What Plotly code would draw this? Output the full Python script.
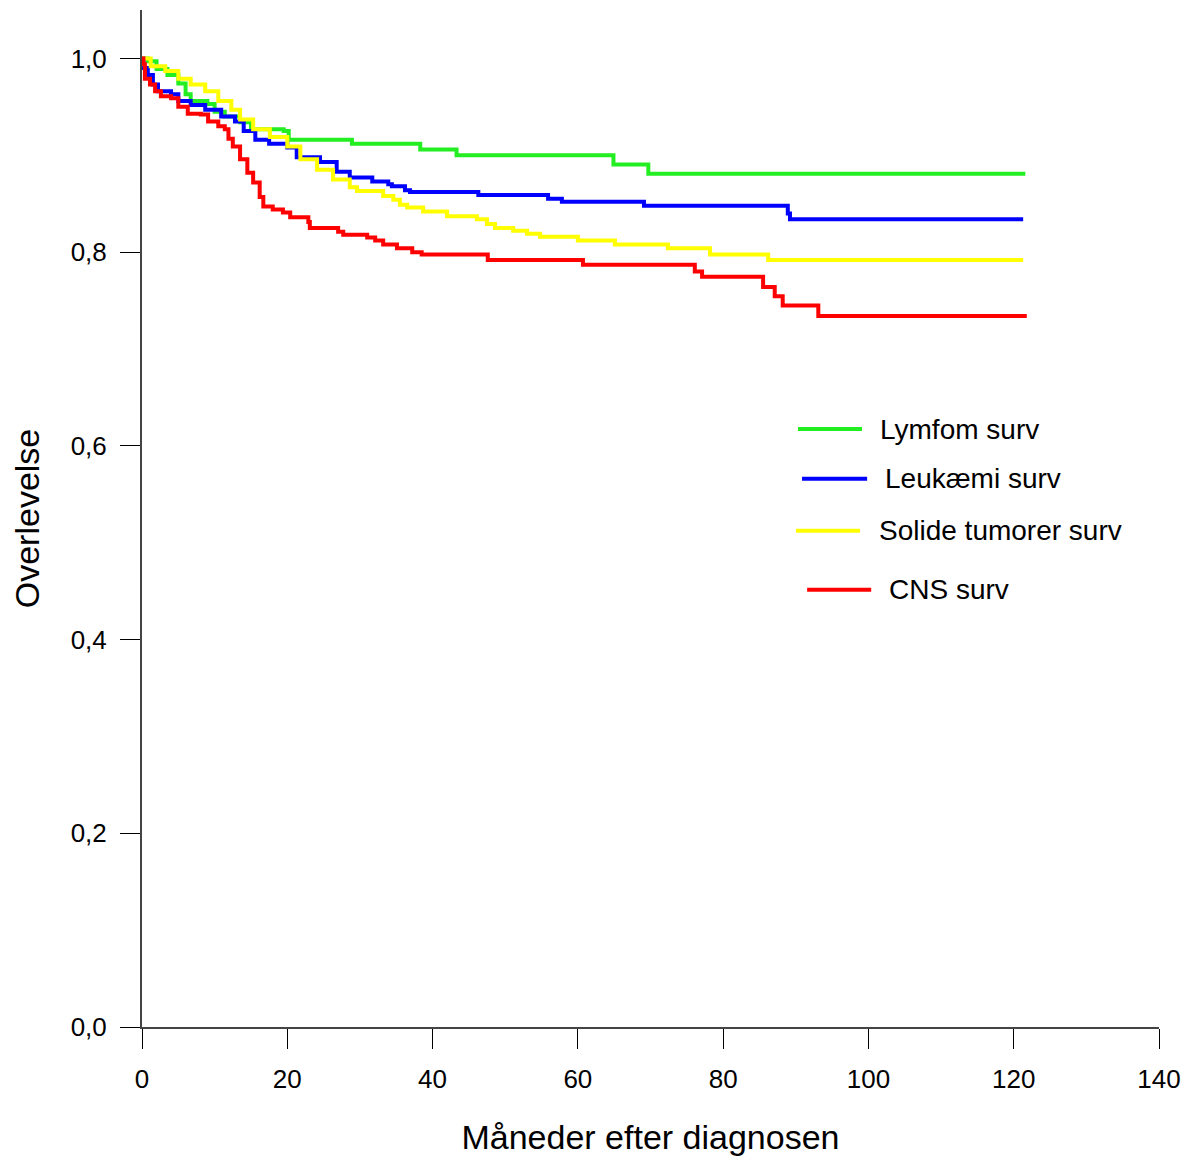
import plotly.graph_objects as go

# ---- data ----
lymfom_t = [0, 0.8, 2.0, 3.5, 5.0, 6.0, 6.7, 9.0, 10.0, 11.4, 13.5, 15.0, 19.5, 20.2, 28.9, 38.3, 43.3, 64.9, 69.7, 121.6]
lymfom_s = [1.0, 0.997, 0.989, 0.983, 0.974, 0.963, 0.956, 0.953, 0.945, 0.940, 0.934, 0.927, 0.925, 0.916, 0.912, 0.906, 0.900, 0.8905, 0.881, 0.881]

leuk_t = [0, 0.2, 0.8, 1.5, 2.2, 4.0, 5.0, 6.7, 8.7, 10.9, 12.8, 14.0, 15.6, 17.5, 20.0, 21.3, 24.5, 26.8, 28.6,
          31.7, 33.9, 34.4, 36.2, 36.9, 46.3, 55.9, 57.8, 69.1, 88.9, 89.2, 121.3]
leuk_s = [1.0, 0.99, 0.983, 0.973, 0.966, 0.963, 0.956, 0.952, 0.947, 0.940, 0.935, 0.925, 0.916, 0.912, 0.908, 0.898,
          0.893, 0.883, 0.877, 0.873, 0.870, 0.868, 0.864, 0.862, 0.859, 0.855, 0.852, 0.848, 0.840, 0.834, 0.834]

solid_t = [0, 1.2, 3.2, 5.0, 6.7, 8.7, 10.5, 12.3, 13.5, 15.3, 17.6, 20.0, 21.8, 24.1, 26.3, 28.6, 29.6, 33.2, 34.6,
           35.5, 36.5, 38.7, 42.0, 46.1, 47.5, 48.6, 51.1, 53.0, 54.8, 60.0, 65.1, 72.4, 78.2, 86.2, 121.3]
solid_s = [1.0, 0.992, 0.987, 0.979, 0.973, 0.966, 0.956, 0.947, 0.937, 0.927, 0.919, 0.909, 0.896, 0.885, 0.875,
           0.867, 0.863, 0.858, 0.854, 0.849, 0.846, 0.842, 0.837, 0.834, 0.829, 0.825, 0.822, 0.819, 0.816, 0.812,
           0.808, 0.804, 0.7975, 0.792, 0.792]

cns_t = [0, 0.2, 0.4, 1.1, 1.8, 2.6, 4.0, 5.0, 6.3, 8.1, 9.1, 10.5, 11.4, 11.9, 12.5, 13.5, 14.5, 15.3, 16.2, 16.7,
         18.0, 19.4, 20.4, 22.9, 23.1, 27.0, 27.7, 31.0, 32.1, 33.2, 35.1, 37.2, 38.5, 47.6, 60.7, 76.1, 77.1, 85.5,
         87.1, 88.2, 93.1, 121.8]
cns_s = [1.0, 0.994, 0.979, 0.973, 0.966, 0.961, 0.959, 0.950, 0.943, 0.942, 0.935, 0.930, 0.927, 0.917, 0.909,
         0.896, 0.882, 0.872, 0.857, 0.847, 0.844, 0.841, 0.836, 0.831, 0.825, 0.821, 0.818, 0.815, 0.812, 0.808,
         0.804, 0.800, 0.7975, 0.792, 0.787, 0.780, 0.7745, 0.764, 0.7545, 0.745, 0.734, 0.734]

series_names = ["Lymfom surv", "Leukæmi surv", "Solide tumorer surv", "CNS surv"]
series_colors = ["#22EE22", "#0000FF", "#FFFF00", "#FF0000"]

x_ticks = [0, 20, 40, 60, 80, 100, 120, 140]
y_ticks = [0.0, 0.2, 0.4, 0.6, 0.8, 1.0]
y_tick_labels = ["0,0", "0,2", "0,4", "0,6", "0,8", "1,0"]

FONT = "Liberation Sans, Arial, sans-serif"

fig = go.Figure()
for (t, s), name, col in zip([(lymfom_t, lymfom_s), (leuk_t, leuk_s), (solid_t, solid_s), (cns_t, cns_s)],
                             series_names, series_colors):
    fig.add_trace(go.Scatter(x=t, y=s, mode="lines", name=name, line=dict(color=col, width=4, shape="hv"),
                             showlegend=False))

# legend drawn as shapes + text (irregular spacing as in reference)
legend_pos = [  # (line x0, line x1, y, text x) in paper coords
    (0.645, 0.708, 0.588, 0.724),
    (0.649, 0.713, 0.539, 0.729),
    (0.643, 0.706, 0.488, 0.723),
    (0.654, 0.717, 0.430, 0.733),
]
for (x0, x1, y, tx), name, col in zip(legend_pos, series_names, series_colors):
    fig.add_shape(type="line", xref="paper", yref="paper", x0=x0, x1=x1, y0=y, y1=y,
                  line=dict(color=col, width=4))
    fig.add_annotation(xref="paper", yref="paper", x=tx, y=y, text=name, showarrow=False,
                       xanchor="left", yanchor="middle", font=dict(size=28, color="black", family=FONT))

fig.update_layout(
    width=1183, height=1152,
    margin=dict(l=134, r=32, t=2, b=133),
    plot_bgcolor="white", paper_bgcolor="white",
    font=dict(family=FONT, color="black"),
)
fig.update_xaxes(range=[0, 140], tickvals=x_ticks, ticktext=[str(v) for v in x_ticks],
                 showgrid=False, zeroline=False, showline=True, linecolor="#444444", linewidth=2,
                 ticks="outside", ticklen=20, tickcolor="black", tickwidth=1,
                 tickfont=dict(size=26, family=FONT), ticklabelstandoff=8,
                 title=dict(text="Måneder efter diagnosen", font=dict(size=34, family=FONT), standoff=32))
fig.update_yaxes(range=[0, 1.05], tickvals=y_ticks, ticktext=y_tick_labels,
                 showgrid=False, zeroline=False, showline=True, linecolor="#444444", linewidth=2,
                 ticks="outside", ticklen=20, tickcolor="black", tickwidth=1,
                 tickfont=dict(size=26, family=FONT), ticklabelstandoff=8,
                 title=dict(text="Overlevelse", font=dict(size=34, family=FONT), standoff=22))

fig.write_html("out.html")
